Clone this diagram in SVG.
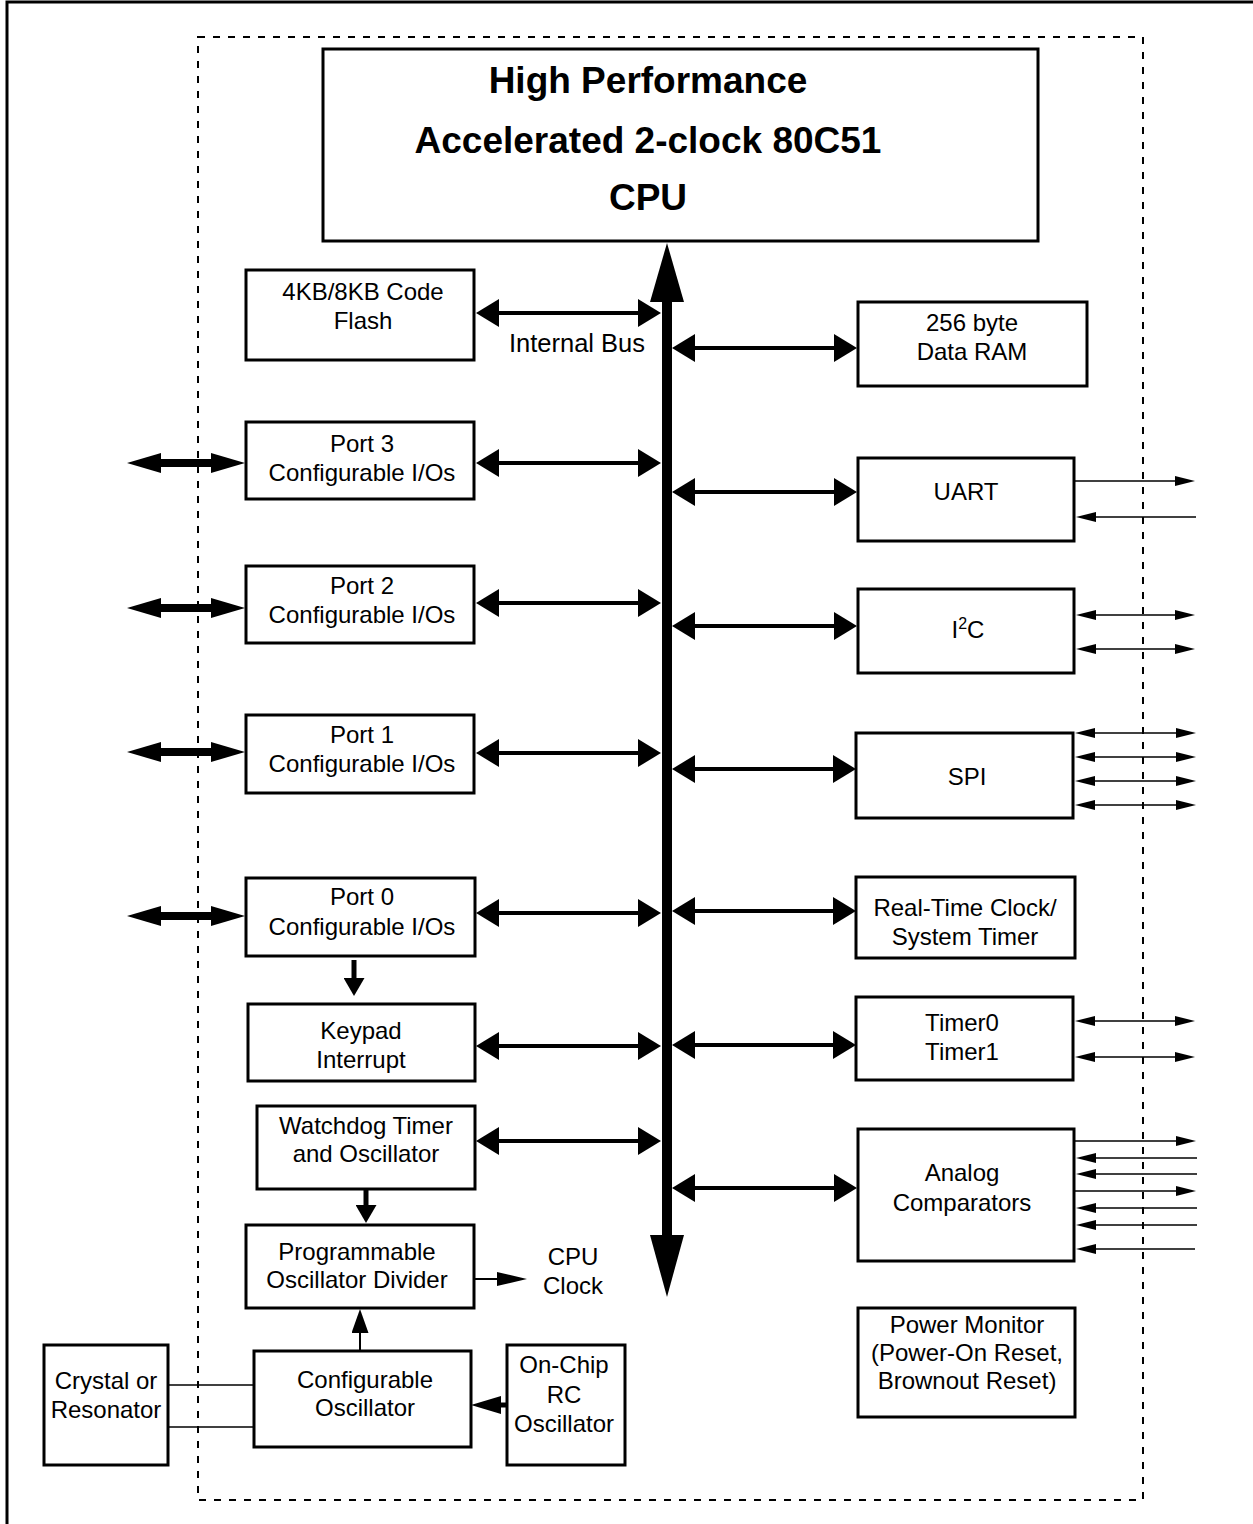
<svg xmlns="http://www.w3.org/2000/svg" width="1253" height="1524" viewBox="0 0 1253 1524">
<style>
.box{fill:#fff;stroke:#000;stroke-width:3}
.t{font-family:"Liberation Sans",Arial,Helvetica,sans-serif;font-size:24px;text-anchor:middle;fill:#000}
.title{font-size:37px;font-weight:bold}
.ln{stroke:#000;fill:none}
.bus{stroke-width:4;marker-start:url(#hb);marker-end:url(#hb)}
.ext{stroke-width:8;marker-start:url(#he);marker-end:url(#he)}
.thin{stroke-width:1.7;marker-end:url(#ht)}
.thin2{stroke-width:1.7;marker-start:url(#ht);marker-end:url(#ht)}
</style>
<defs>
<marker id="hb" markerUnits="userSpaceOnUse" markerWidth="23" markerHeight="28" viewBox="0 0 23 28" refX="0" refY="14" orient="auto-start-reverse"><path d="M0,0 L23,14 L0,28 z" fill="#000"/></marker>
<marker id="he" markerUnits="userSpaceOnUse" markerWidth="34" markerHeight="20" viewBox="0 0 34 20" refX="0" refY="10" orient="auto-start-reverse"><path d="M0,0 L34,10 L0,20 z" fill="#000"/></marker>
<marker id="ht" markerUnits="userSpaceOnUse" markerWidth="20" markerHeight="10" viewBox="0 0 20 10" refX="0" refY="5" orient="auto-start-reverse"><path d="M0,0 L20,5 L0,10 z" fill="#000"/></marker>
<marker id="hd" markerUnits="userSpaceOnUse" markerWidth="18" markerHeight="21" viewBox="0 0 18 21" refX="0" refY="10.5" orient="auto"><path d="M0,0 L18,10.5 L0,21 z" fill="#000"/></marker>
<marker id="hc" markerUnits="userSpaceOnUse" markerWidth="30" markerHeight="14" viewBox="0 0 30 14" refX="0" refY="7" orient="auto"><path d="M0,0 L30,7 L0,14 z" fill="#000"/></marker>
<marker id="hu" markerUnits="userSpaceOnUse" markerWidth="24" markerHeight="17" viewBox="0 0 24 17" refX="0" refY="8.5" orient="auto"><path d="M0,0 L24,8.5 L0,17 z" fill="#000"/></marker>
<marker id="hr" markerUnits="userSpaceOnUse" markerWidth="30" markerHeight="18" viewBox="0 0 30 18" refX="0" refY="9" orient="auto"><path d="M0,0 L30,9 L0,18 z" fill="#000"/></marker>
</defs>

<g id="frame">
<path d="M7,1524 V2 H1253" fill="none" stroke="#000" stroke-width="3"/>
<rect x="198" y="37" width="945" height="1463" fill="none" stroke="#000" stroke-width="2" stroke-dasharray="7 8"/>
</g>

<g id="connectors">
<rect x="662" y="300" width="10" height="937" fill="#000"/>
<polygon points="667,243 650,302 684,302" fill="#000"/>
<polygon points="667,1297 650,1235 684,1235" fill="#000"/>
<line class="ln bus" x1="499" y1="313" x2="638" y2="313"/>
<line class="ln bus" x1="499" y1="463" x2="638" y2="463"/>
<line class="ln bus" x1="499" y1="603" x2="638" y2="603"/>
<line class="ln bus" x1="499" y1="753" x2="638" y2="753"/>
<line class="ln bus" x1="499" y1="913" x2="638" y2="913"/>
<line class="ln bus" x1="499" y1="1046" x2="638" y2="1046"/>
<line class="ln bus" x1="499" y1="1141" x2="638" y2="1141"/>
<line class="ln bus" x1="695" y1="348" x2="834" y2="348"/>
<line class="ln bus" x1="695" y1="492" x2="834" y2="492"/>
<line class="ln bus" x1="695" y1="626" x2="834" y2="626"/>
<line class="ln bus" x1="695" y1="769" x2="833" y2="769"/>
<line class="ln bus" x1="695" y1="911" x2="833" y2="911"/>
<line class="ln bus" x1="695" y1="1045" x2="833" y2="1045"/>
<line class="ln bus" x1="695" y1="1188" x2="834" y2="1188"/>
<line class="ln ext" x1="161" y1="463" x2="211" y2="463"/>
<line class="ln ext" x1="161" y1="608" x2="211" y2="608"/>
<line class="ln ext" x1="161" y1="752" x2="211" y2="752"/>
<line class="ln ext" x1="161" y1="916" x2="211" y2="916"/>
<line class="ln thin" x1="1074" y1="481" x2="1175" y2="481"/>
<line class="ln thin" x1="1196" y1="517" x2="1096" y2="517"/>
<line class="ln thin2" x1="1096" y1="615" x2="1175" y2="615"/>
<line class="ln thin2" x1="1096" y1="649" x2="1175" y2="649"/>
<line class="ln thin2" x1="1095" y1="733" x2="1176" y2="733"/>
<line class="ln thin2" x1="1095" y1="757" x2="1176" y2="757"/>
<line class="ln thin2" x1="1095" y1="781" x2="1176" y2="781"/>
<line class="ln thin2" x1="1095" y1="805" x2="1176" y2="805"/>
<line class="ln thin2" x1="1095" y1="1021" x2="1175" y2="1021"/>
<line class="ln thin2" x1="1095" y1="1057" x2="1175" y2="1057"/>
<line class="ln thin" x1="1075" y1="1141" x2="1176" y2="1141"/>
<line class="ln thin" x1="1197" y1="1158" x2="1096" y2="1158"/>
<line class="ln thin" x1="1197" y1="1174" x2="1096" y2="1174"/>
<line class="ln thin" x1="1075" y1="1191" x2="1176" y2="1191"/>
<line class="ln thin" x1="1197" y1="1208" x2="1096" y2="1208"/>
<line class="ln thin" x1="1197" y1="1225" x2="1096" y2="1225"/>
<line class="ln thin" x1="1195" y1="1249" x2="1096" y2="1249"/>
<line class="ln" stroke-width="5" x1="354" y1="960" x2="354" y2="978" marker-end="url(#hd)"/>
<line class="ln" stroke-width="5" x1="366" y1="1189" x2="366" y2="1205" marker-end="url(#hd)"/>
<line class="ln" stroke-width="2" x1="475" y1="1279" x2="497" y2="1279" marker-end="url(#hc)"/>
<line class="ln" stroke-width="2" x1="360" y1="1350" x2="360" y2="1333" marker-end="url(#hu)"/>
<line class="ln" stroke-width="5" x1="508" y1="1405" x2="501" y2="1405" marker-end="url(#hr)"/>
<line class="ln" stroke-width="1.7" x1="168" y1="1385" x2="254" y2="1385"/>
<line class="ln" stroke-width="1.7" x1="168" y1="1427" x2="254" y2="1427"/>
</g>

<g id="cpu">
<rect class="box" x="323" y="49" width="715" height="192"/>
<text class="t title" x="648" y="93">High Performance</text>
<text class="t title" x="648" y="153">Accelerated 2-clock 80C51</text>
<text class="t title" x="648" y="210">CPU</text>
</g>

<g id="bus-label"><text class="t" x="577" y="352" style="font-size:25.5px">Internal Bus</text></g>

<g id="flash">
<rect class="box" x="246" y="270" width="228" height="90"/>
<text class="t" x="363" y="300">4KB/8KB Code</text>
<text class="t" x="363" y="329">Flash</text>
</g>

<g id="ram">
<rect class="box" x="858" y="302" width="229" height="84"/>
<text class="t" x="972" y="331">256 byte</text>
<text class="t" x="972" y="360">Data RAM</text>
</g>

<g id="port3">
<rect class="box" x="246" y="422" width="228" height="77"/>
<text class="t" x="362" y="452">Port 3</text>
<text class="t" x="362" y="481">Configurable I/Os</text>
</g>

<g id="port2">
<rect class="box" x="246" y="566" width="228" height="77"/>
<text class="t" x="362" y="594">Port 2</text>
<text class="t" x="362" y="623">Configurable I/Os</text>
</g>

<g id="port1">
<rect class="box" x="246" y="715" width="228" height="78"/>
<text class="t" x="362" y="743">Port 1</text>
<text class="t" x="362" y="772">Configurable I/Os</text>
</g>

<g id="port0">
<rect class="box" x="246" y="878" width="229" height="78"/>
<text class="t" x="362" y="905">Port 0</text>
<text class="t" x="362" y="935">Configurable I/Os</text>
</g>

<g id="keypad">
<rect class="box" x="248" y="1004" width="227" height="77"/>
<text class="t" x="361" y="1039">Keypad</text>
<text class="t" x="361" y="1068">Interrupt</text>
</g>

<g id="watchdog">
<rect class="box" x="257" y="1106" width="218" height="83"/>
<text class="t" x="366" y="1134">Watchdog Timer</text>
<text class="t" x="366" y="1162">and Oscillator</text>
</g>

<g id="divider">
<rect class="box" x="246" y="1225" width="228" height="83"/>
<text class="t" x="357" y="1260">Programmable</text>
<text class="t" x="357" y="1288">Oscillator Divider</text>
</g>

<g id="cpu-clock">
<text class="t" x="573" y="1265">CPU</text>
<text class="t" x="573" y="1294">Clock</text>
</g>

<g id="config-osc">
<rect class="box" x="254" y="1351" width="217" height="96"/>
<text class="t" x="365" y="1388">Configurable</text>
<text class="t" x="365" y="1416">Oscillator</text>
</g>

<g id="rc-osc">
<rect class="box" x="507" y="1345" width="118" height="120"/>
<text class="t" x="564" y="1373">On-Chip</text>
<text class="t" x="564" y="1403">RC</text>
<text class="t" x="564" y="1432">Oscillator</text>
</g>

<g id="crystal">
<rect class="box" x="44" y="1345" width="124" height="120"/>
<text class="t" x="106" y="1389">Crystal or</text>
<text class="t" x="106" y="1418">Resonator</text>
</g>

<g id="uart">
<rect class="box" x="858" y="458" width="216" height="83"/>
<text class="t" x="966" y="500">UART</text>
</g>

<g id="i2c">
<rect class="box" x="858" y="589" width="216" height="84"/>
<text class="t" x="968" y="638">I<tspan dy="-9" style="font-size:16px">2</tspan><tspan dy="9">C</tspan></text>
</g>

<g id="spi">
<rect class="box" x="856" y="733" width="217" height="85"/>
<text class="t" x="967" y="785">SPI</text>
</g>

<g id="rtc">
<rect class="box" x="856" y="877" width="219" height="81"/>
<text class="t" x="965" y="916">Real-Time Clock/</text>
<text class="t" x="965" y="945">System Timer</text>
</g>

<g id="timers">
<rect class="box" x="856" y="997" width="217" height="83"/>
<text class="t" x="962" y="1031">Timer0</text>
<text class="t" x="962" y="1060">Timer1</text>
</g>

<g id="analog">
<rect class="box" x="858" y="1129" width="216" height="132"/>
<text class="t" x="962" y="1181">Analog</text>
<text class="t" x="962" y="1211">Comparators</text>
</g>

<g id="power">
<rect class="box" x="858" y="1308" width="217" height="109"/>
<text class="t" x="967" y="1333">Power Monitor</text>
<text class="t" x="967" y="1361">(Power-On Reset,</text>
<text class="t" x="967" y="1389">Brownout Reset)</text>
</g>
</svg>
